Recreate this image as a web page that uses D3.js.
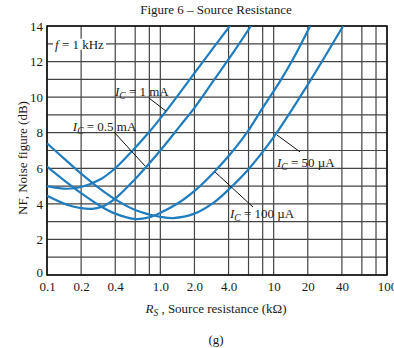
<!DOCTYPE html>
<html><head><meta charset="utf-8">
<script src="https://cdn.jsdelivr.net/npm/d3@7"></script>
<style>body{margin:0;background:#fff}svg{display:block}text{font-family:"Liberation Serif","DejaVu Serif",serif;fill:#1a1a1a}</style>
</head><body>
<svg id="c" width="394" height="348"></svg>
<script>
// ---- data ----
const xGrid = [0.1,0.2,0.4,0.6,0.8,1,2,4,6,8,10,20,40,60,80,100];
const xTickValues = [0.1,0.2,0.4,1,2,4,10,20,40,100];
const xTickLabels = ["0.1","0.2","0.4","1.0","2.0","4.0","10","20","40","100"];
const yTickValues = [0,2,4,6,8,10,12,14];
const seriesNames = ["IC = 1 mA","IC = 0.5 mA","IC = 100 µA","IC = 50 µA"];
const rs1mA   = [0.1,0.15,0.2,0.3,0.4,0.57,0.8,1.15,2.0,3.0,4.1];
const nf1mA   = [5.0,4.85,4.95,5.4,6.0,7.0,8.05,9.3,11.35,12.85,14.0];
const rs05mA  = [0.1,0.15,0.2,0.25,0.3,0.4,0.6,1.0,1.5,2.0,3.0,4.5,6.3];
const nf05mA  = [4.45,3.95,3.76,3.72,3.82,4.3,5.4,7.0,8.4,9.4,11.0,12.6,14.0];
const rs100uA = [0.1,0.15,0.2,0.3,0.4,0.6,0.8,1.0,1.5,2.24,3.0,4.4,5.8,8,11.4,15,21];
const nf100uA = [6.1,5.2,4.6,3.85,3.45,3.15,3.25,3.5,4.12,5.0,5.8,7.0,8.0,9.4,10.9,12.2,14.0];
const rs50uA  = [0.1,0.15,0.2,0.3,0.4,0.6,0.8,1.0,1.3,2.0,3.0,4.0,6.0,10,20,41];
const nf50uA  = [7.4,6.4,5.7,4.8,4.25,3.65,3.4,3.27,3.2,3.45,4.1,4.8,5.95,7.75,10.7,14.0];
// annotations (data coordinates)
const labelText = ["1 mA","0.5 mA","50 µA","100 µA"];
const labelX = [0.398,0.169,10.7,4.12];
const labelY = [10.06,8.1,6.07,3.2];
const ptrX1 = [1.12,0.733,10.7,3.04], ptrY1 = [9.22,6.13,7.87,5.79];
const ptrX2 = [0.794,0.39,17.1,6.57], ptrY2 = [9.95,8.04,6.92,3.82];

const svg = d3.select("#c");
const L=47,R=387,T=26,B=275;
const FS = "13px", SUB = "9.5px";
const x = d3.scaleLog().domain([0.1,100]).range([L,R]);
const y = d3.scaleLinear().domain([0,14]).range([B,T]);

// grid
const g = svg.append("g");
g.selectAll(".vx").data(xGrid).join("line").attr("x1",d=>x(d)).attr("x2",d=>x(d)).attr("y1",T).attr("y2",B).attr("stroke","#444").attr("stroke-width",1.2);
g.selectAll(".hy").data(d3.range(0,15)).join("line").attr("y1",d=>y(d)).attr("y2",d=>y(d)).attr("x1",L).attr("x2",R).attr("stroke","#444").attr("stroke-width",1.2);

// axes
const xAxis = d3.axisBottom(x).tickValues(xTickValues).tickSize(0).tickPadding(7).tickFormat((d,i)=>xTickLabels[i]);
const ax = svg.append("g").attr("transform",`translate(0,${B})`).call(xAxis);
ax.select(".domain").remove();
ax.selectAll("text").style("font-family","Liberation Serif").style("font-size",FS).attr("fill","#1a1a1a");
const yAxis = d3.axisLeft(y).tickValues(yTickValues).tickSize(0).tickPadding(4);
const ay = svg.append("g").attr("transform",`translate(${L},0)`).call(yAxis);
ay.select(".domain").remove();
ay.selectAll("text").style("font-family","Liberation Serif").style("font-size",FS).attr("fill","#1a1a1a");
ay.selectAll(".tick").filter(d=>d===0).select("text").attr("dy","0.1em");

svg.append("rect").attr("x",L).attr("y",T).attr("width",R-L).attr("height",B-T).attr("fill","none").attr("stroke","#111").attr("stroke-width",1.6);

// f = 1 kHz (with white backing)
const fbg = svg.append("rect").attr("fill","#fff");
const ft = svg.append("text").attr("x",x(0.1177)).attr("y",y(12.72)).style("font-size",FS);
ft.append("tspan").text("f").style("font-style","italic");
ft.append("tspan").text(" = 1 kHz");
const bb = ft.node().getBBox();
fbg.attr("x",bb.x-2).attr("y",bb.y+2).attr("width",bb.width+4).attr("height",bb.height-4);

// curves
svg.append("clipPath").attr("id","clip").append("rect").attr("x",L).attr("y",T).attr("width",R-L).attr("height",B-T);
const line = d3.line().x(d=>x(d[0])).y(d=>y(d[1])).curve(d3.curveCatmullRom.alpha(0.5));
const series = [[rs1mA,nf1mA],[rs05mA,nf05mA],[rs100uA,nf100uA],[rs50uA,nf50uA]];
svg.append("g").attr("clip-path","url(#clip)").selectAll("path").data(series).join("path")
  .attr("d",s=>line(s[0].map((v,i)=>[v,s[1][i]]))).attr("fill","none").attr("stroke","#1f7dbf").attr("stroke-width",2.2);

// pointers
svg.selectAll(".ptr").data(labelText).join("line").attr("x1",(d,i)=>x(ptrX1[i])).attr("y1",(d,i)=>y(ptrY1[i]))
  .attr("x2",(d,i)=>x(ptrX2[i])).attr("y2",(d,i)=>y(ptrY2[i])).attr("stroke","#111").attr("stroke-width",1);

// labels
labelText.forEach((t,i)=>{
  const tx = svg.append("text").attr("x",x(labelX[i])).attr("y",y(labelY[i])).style("font-size",FS);
  tx.append("tspan").text("I").style("font-style","italic");
  tx.append("tspan").text("C").style("font-style","italic").style("font-size",SUB).attr("dy",3);
  tx.append("tspan").text(" = "+t).attr("dy",-3);
});

// titles
svg.append("text").attr("x",216).attr("y",14).attr("text-anchor","middle").style("font-size",FS).text("Figure 6 – Source Resistance");
svg.append("text").attr("transform","translate(27,158) rotate(-90)").attr("text-anchor","middle").style("font-size",FS).text("NF, Noise figure (dB)");
const xt = svg.append("text").attr("x",216).attr("y",313).attr("text-anchor","middle").style("font-size",FS);
xt.append("tspan").text("R").style("font-style","italic");
xt.append("tspan").text("S").style("font-style","italic").style("font-size",SUB).attr("dy",3);
xt.append("tspan").text(" , Source resistance (k\u03A9)").attr("dy",-3);
svg.append("text").attr("x",216).attr("y",344).attr("text-anchor","middle").style("font-size",FS).text("(g)");
</script>
</body></html>
